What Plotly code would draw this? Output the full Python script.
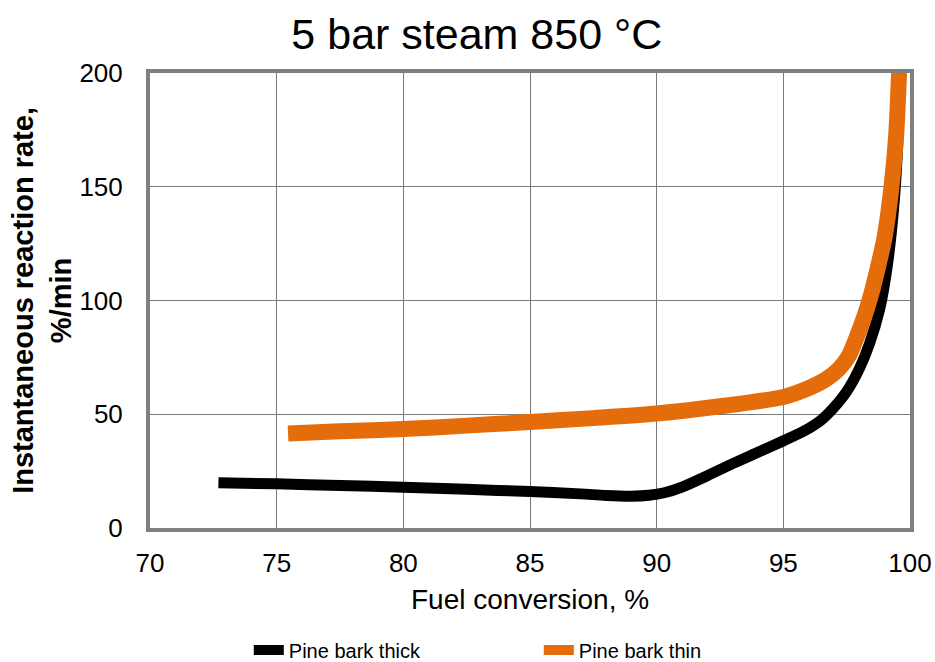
import plotly.graph_objects as go

# Fuel conversion (%) and instantaneous reaction rate (%/min)
thick_conversion = [72.7, 75.0, 77.5, 80.0, 82.5, 85.0, 87.0, 88.0, 89.0, 89.7,
                    90.3, 91.0, 92.0, 93.0, 94.0, 95.0, 95.8, 96.5, 97.0, 97.5,
                    98.0, 98.4, 98.8, 99.1, 99.35, 99.5, 99.6]
thick_rate = [19.9, 19.4, 18.7, 17.9, 17.0, 16.0, 15.0, 14.3, 14.0, 14.4,
              15.5, 18.0, 23.0, 28.3, 33.3, 38.3, 42.5, 47.5, 53.0, 60.0,
              70.0, 81.0, 96.0, 115.0, 140.0, 165.0, 200.0]

thin_conversion = [75.45, 77.5, 80.0, 82.5, 85.0, 87.5, 90.0, 92.5, 95.0, 96.0,
                   96.7, 97.2, 97.6, 97.9, 98.2, 98.45, 98.7, 99.0, 99.27,
                   99.45, 99.57]
thin_rate = [41.5, 42.5, 43.5, 45.0, 46.6, 48.3, 50.3, 53.5, 57.6, 61.5,
             65.5, 70.0, 76.0, 84.0, 93.0, 102.0, 113.0, 128.0, 150.0,
             172.0, 200.0]

x_ticks = [70, 75, 80, 85, 90, 95, 100]
y_ticks = [0, 50, 100, 150, 200]

FONT = "Liberation Sans, Arial, sans-serif"
GRID = "#7a7a7a"
FRAME = "#808080"

fig = go.Figure()
fig.add_trace(go.Scatter(
    x=thick_conversion, y=thick_rate, mode="lines", name="Pine bark thick",
    line=dict(color="#000000", width=11, shape="spline", smoothing=0.8),
))
fig.add_trace(go.Scatter(
    x=thin_conversion, y=thin_rate, mode="lines", name="Pine bark thin",
    line=dict(color="#E46C0A", width=16, shape="spline", smoothing=0.8),
))

fig.update_layout(
    width=935, height=662,
    margin=dict(l=150, r=25, t=73, b=134, autoexpand=False),
    paper_bgcolor="white", plot_bgcolor="white",
    font=dict(family=FONT, color="#000000"),
    title=dict(text="5 bar steam 850 °C", x=0.51, xanchor="center",
               y=0.948, yanchor="middle", font=dict(size=43, family=FONT)),
    showlegend=True,
    legend=dict(orientation="h", x=0.13, xanchor="left", y=-0.268,
                yanchor="middle", font=dict(size=20, family=FONT),
                entrywidth=245, entrywidthmode="pixels", bgcolor="rgba(0,0,0,0)"),
)

fig.update_xaxes(
    range=[70, 100], tickvals=x_ticks, ticktext=[str(v) for v in x_ticks],
    showgrid=True, gridcolor=GRID, gridwidth=1.2,
    showline=True, linecolor=FRAME, linewidth=4, mirror=True,
    ticks="", ticklabelstandoff=9, tickfont=dict(size=26, family=FONT),
    zeroline=False, automargin=False,
)
fig.update_yaxes(
    range=[0, 200], tickvals=y_ticks, ticktext=[str(v) for v in y_ticks],
    showgrid=True, gridcolor=GRID, gridwidth=1.2,
    showline=True, linecolor=FRAME, linewidth=4, mirror=True,
    ticks="", ticklabelstandoff=18, tickfont=dict(size=26, family=FONT),
    zeroline=False, automargin=False,
)

# Axis titles
fig.add_annotation(
    text="Fuel conversion, %", xref="paper", yref="paper",
    x=0.5, y=-0.158, xanchor="center", yanchor="middle", showarrow=False,
    font=dict(size=28, family=FONT),
)
fig.add_annotation(
    text="<b>Instantaneous reaction rate,<br>%/min</b>", xref="paper", yref="paper",
    x=-0.143, y=0.5, xanchor="center", yanchor="middle", showarrow=False,
    textangle=-90, font=dict(size=29, family=FONT),
)

fig.write_html("out.html")
